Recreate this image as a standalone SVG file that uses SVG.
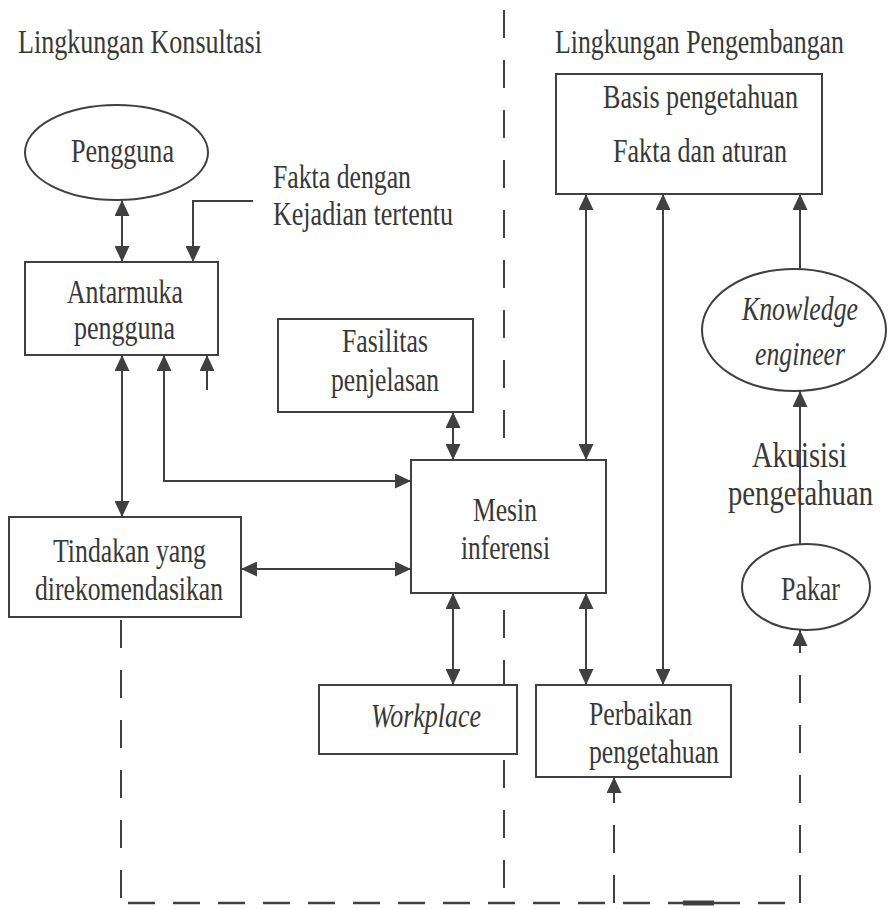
<svg xmlns="http://www.w3.org/2000/svg" width="888" height="909" viewBox="0 0 888 909">
  <style>
    .bg { fill: #ffffff; }
    .box { fill: #ffffff; stroke: #404040; stroke-width: 2; }
    .lbl { font-family: "Liberation Serif", "Times New Roman", serif; font-size: 33px; fill: #383838; }
    .ttl { font-size: 34px; }
    .big { font-size: 36px; }
    .it { font-style: italic; }
    .wire { fill: none; stroke: #404040; stroke-width: 2; }
    .dash { fill: none; stroke: #404040; stroke-width: 2; stroke-dasharray: 28 22; }
    .dashh { fill: none; stroke: #404040; stroke-width: 2.5; stroke-dasharray: 27 18; }
  </style>
  <defs>
    <marker id="arr" markerUnits="userSpaceOnUse" markerWidth="16" markerHeight="15" refX="16" refY="7.5" orient="auto-start-reverse">
      <path d="M0,0 L16,7.5 L0,15 z" fill="#404040"/>
    </marker>
  </defs>

  <rect class="bg" x="0" y="0" width="888" height="909"/>

  <!-- environment labels; all labels use a narrowed serif face -->
  <text class="lbl ttl" transform="translate(18 53) scale(0.77 1)" textLength="316.9" lengthAdjust="spacingAndGlyphs">Lingkungan Konsultasi</text>
  <text class="lbl ttl" transform="translate(555 53) scale(0.77 1)" textLength="375.3" lengthAdjust="spacingAndGlyphs">Lingkungan Pengembangan</text>

  <!-- boundary lines (drawn beneath the nodes) -->
  <g id="boundaries">
    <line class="dash" x1="504" y1="10" x2="504" y2="903"/>
    <line class="dash" x1="121" y1="620" x2="121" y2="903"/>
    <line class="dashh" x1="128" y1="903" x2="800" y2="903"/>
    <line x1="683" y1="903" x2="714" y2="903" stroke="#404040" stroke-width="5"/>
  </g>

  <g id="connectors">
    <line class="wire" x1="122" y1="200" x2="122" y2="262" marker-start="url(#arr)" marker-end="url(#arr)"/>
    <path class="wire" d="M253,201 H193 V262" marker-end="url(#arr)"/>
    <line class="wire" x1="122" y1="355" x2="122" y2="517" marker-start="url(#arr)" marker-end="url(#arr)"/>
    <path class="wire" d="M164,355 V481 H411" marker-start="url(#arr)" marker-end="url(#arr)"/>
    <line class="wire" x1="207" y1="390" x2="207" y2="355" marker-end="url(#arr)"/>
    <line class="wire" x1="453" y1="412" x2="453" y2="460" marker-start="url(#arr)" marker-end="url(#arr)"/>
    <line class="wire" x1="241" y1="569" x2="411" y2="569" marker-start="url(#arr)" marker-end="url(#arr)"/>
    <line class="wire" x1="586" y1="194" x2="586" y2="460" marker-start="url(#arr)" marker-end="url(#arr)"/>
    <line class="wire" x1="663" y1="194" x2="663" y2="685" marker-start="url(#arr)" marker-end="url(#arr)"/>
    <line class="wire" x1="800" y1="269" x2="800" y2="194" marker-end="url(#arr)"/>
    <line class="wire" x1="800" y1="544" x2="800" y2="391" marker-end="url(#arr)"/>
    <line class="wire" x1="453" y1="593" x2="453" y2="685" marker-start="url(#arr)" marker-end="url(#arr)"/>
    <line class="wire" x1="586" y1="593" x2="586" y2="685" marker-start="url(#arr)" marker-end="url(#arr)"/>
    <line class="dash" x1="614" y1="903" x2="614" y2="777" marker-end="url(#arr)"/>
    <line class="dash" x1="800" y1="903" x2="800" y2="630" marker-end="url(#arr)"/>
  </g>

  <g id="pengguna">
    <ellipse class="box" cx="116.5" cy="152.5" rx="91.5" ry="47.5"/>
    <text class="lbl" transform="translate(71 162) scale(0.77 1)" textLength="133.8" lengthAdjust="spacingAndGlyphs">Pengguna</text>
  </g>

  <g id="fakta-kejadian">
    <text class="lbl" transform="translate(273 188) scale(0.77 1)" textLength="179.2" lengthAdjust="spacingAndGlyphs">Fakta dengan</text>
    <text class="lbl" transform="translate(273 225) scale(0.77 1)" textLength="233.8" lengthAdjust="spacingAndGlyphs">Kejadian tertentu</text>
  </g>

  <g id="antarmuka">
    <rect class="box" x="25" y="262" width="193" height="93"/>
    <text class="lbl" transform="translate(67 303) scale(0.77 1)" textLength="150.6" lengthAdjust="spacingAndGlyphs">Antarmuka</text>
    <text class="lbl" transform="translate(74 339) scale(0.77 1)" textLength="131.2" lengthAdjust="spacingAndGlyphs">pengguna</text>
  </g>

  <g id="fasilitas">
    <rect class="box" x="278" y="319" width="195" height="93"/>
    <text class="lbl" transform="translate(342 352) scale(0.77 1)" textLength="111.7" lengthAdjust="spacingAndGlyphs">Fasilitas</text>
    <text class="lbl" transform="translate(331 391) scale(0.77 1)" textLength="140.3" lengthAdjust="spacingAndGlyphs">penjelasan</text>
  </g>

  <g id="mesin">
    <rect class="box" x="411" y="460" width="195" height="133"/>
    <text class="lbl" transform="translate(473 521) scale(0.77 1)" textLength="83.1" lengthAdjust="spacingAndGlyphs">Mesin</text>
    <text class="lbl" transform="translate(461 559) scale(0.77 1)" textLength="115.6" lengthAdjust="spacingAndGlyphs">inferensi</text>
  </g>

  <g id="tindakan">
    <rect class="box" x="9" y="517" width="232" height="100"/>
    <text class="lbl" transform="translate(53 562) scale(0.77 1)" textLength="198.7" lengthAdjust="spacingAndGlyphs">Tindakan yang</text>
    <text class="lbl" transform="translate(35 600) scale(0.77 1)" textLength="244.2" lengthAdjust="spacingAndGlyphs">direkomendasikan</text>
  </g>

  <g id="basis">
    <rect class="box" x="556" y="74" width="266" height="120"/>
    <text class="lbl" transform="translate(603 108) scale(0.77 1)" textLength="253.2" lengthAdjust="spacingAndGlyphs">Basis pengetahuan</text>
    <text class="lbl" transform="translate(613 162) scale(0.77 1)" textLength="226" lengthAdjust="spacingAndGlyphs">Fakta dan aturan</text>
  </g>

  <g id="knowledge-engineer">
    <ellipse class="box" cx="794" cy="330" rx="92" ry="61"/>
    <text class="lbl it" transform="translate(742 320) scale(0.77 1)" textLength="150.6" lengthAdjust="spacingAndGlyphs">Knowledge</text>
    <text class="lbl it" transform="translate(755 365) scale(0.77 1)" textLength="116.9" lengthAdjust="spacingAndGlyphs">engineer</text>
  </g>

  <g id="akuisisi">
    <text class="lbl big" transform="translate(752 467) scale(0.77 1)" textLength="123.4" lengthAdjust="spacingAndGlyphs">Akuisisi</text>
    <text class="lbl big" transform="translate(728 505) scale(0.77 1)" textLength="188.3" lengthAdjust="spacingAndGlyphs">pengetahuan</text>
  </g>

  <g id="pakar">
    <ellipse class="box" cx="806" cy="587" rx="64" ry="43"/>
    <text class="lbl" transform="translate(781 600) scale(0.77 1)" textLength="76.6" lengthAdjust="spacingAndGlyphs">Pakar</text>
  </g>

  <g id="workplace">
    <rect class="box" x="319" y="685" width="198" height="69"/>
    <text class="lbl it" transform="translate(371 727) scale(0.77 1)" textLength="142.9" lengthAdjust="spacingAndGlyphs">Workplace</text>
  </g>

  <g id="perbaikan">
    <rect class="box" x="536" y="685" width="195" height="92"/>
    <text class="lbl" transform="translate(589 725) scale(0.77 1)" textLength="133.8" lengthAdjust="spacingAndGlyphs">Perbaikan</text>
    <text class="lbl" transform="translate(589 763) scale(0.77 1)" textLength="168.8" lengthAdjust="spacingAndGlyphs">pengetahuan</text>
  </g>
</svg>
